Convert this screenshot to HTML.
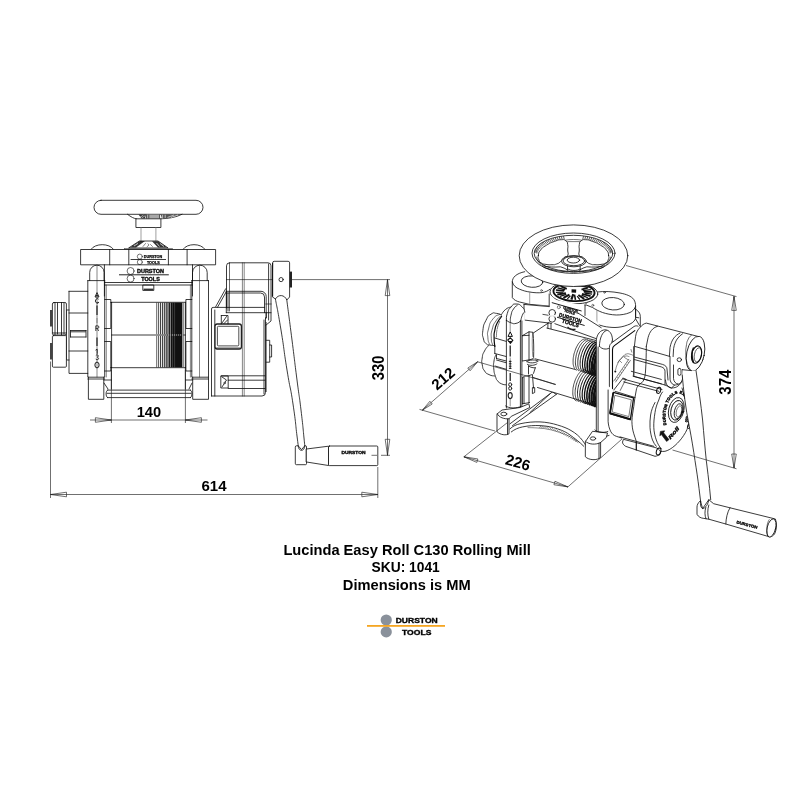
<!DOCTYPE html>
<html><head><meta charset="utf-8"><title>Lucinda Easy Roll C130 Rolling Mill</title>
<style>
html,body{margin:0;padding:0;background:#fff;}
body{width:800px;height:800px;overflow:hidden;font-family:"Liberation Sans",sans-serif;}
svg{display:block;will-change:transform}
.l{fill:none;stroke:#0a0a0a;stroke-width:.8;stroke-linecap:round;stroke-linejoin:round}
.w{fill:#fff;stroke:#0a0a0a;stroke-width:.8;stroke-linecap:round;stroke-linejoin:round}
.g{fill:none;stroke:#777;stroke-width:.7;stroke-linecap:round}
.t{fill:none;stroke:#222;stroke-width:.55;stroke-linecap:round}
.d{fill:none;stroke:#222;stroke-width:.65}
.a{fill:#fff;stroke:#222;stroke-width:.65;stroke-linejoin:miter}
.k{fill:#111;stroke:none}
text{font-family:"Liberation Sans",sans-serif;font-weight:bold;fill:#000}
</style></head><body>
<svg width="800" height="800" viewBox="0 0 800 800">
<rect width="800" height="800" fill="#fff"/>
<rect class="w" x="94" y="200.3" width="109" height="14" rx="7" ry="7"/>
<path class="l" d="M127.5 214.3C131 217 134 218.6 136.3 218.8M182 214.3C176 217.5 168 218.6 160.9 218.8"/>
<path d="M138.5 214.6H146L145 218.4H141.5Z" fill="#333"/>
<path d="M140 217.2L143.4 215.2M141.6 218L145 215.8" stroke="#fff" stroke-width=".6" fill="none"/>
<rect x="146.3" y="214.7" width="13.6" height="3.9" fill="#a8a8a8"/>
<path d="M146.5 214.6V218.6M148.8 214.6V218.6M159.6 214.6V218.6" stroke="#222" stroke-width=".7"/>
<path d="M160.6 214.6H180.5C175 217.4 168.5 218.4 162 218.6Z" fill="#555"/>
<path d="M162.6 214.8V218.4M165.2 214.8V218.2M167.5 217.4L174 215M171 217.4L178 215" stroke="#fff" stroke-width=".6" fill="none"/>
<rect class="w" x="136.3" y="218.8" width="24.6" height="8.7"/>
<path class="g" d="M141 227.5V240.6M155.9 227.5V240.6"/>
<path class="w" d="M139.8 241H158L168.1 248H129Z"/>
<path class="k" d="M139.8 241L145 241L136 247.6H130ZM152 241.2H158L167 247.6H158Z" opacity=".85"/>
<path d="M134 246L138 243.4M160 243.5L164 246.5M156.5 243L159.5 246.5" stroke="#fff" stroke-width=".7" fill="none"/>
<path class="t" d="M143 246.5L145.5 243.5M147 246.8L149 245L148 243.8M150.5 244.5L152.5 246.5"/>
<rect x="124.4" y="248.5" width="48.2" height="1.3" fill="#888" stroke="#333" stroke-width=".4"/>
<path class="l" d="M91 249.4C95 243 109.5 243 113.5 249.4M183 249.4C187 243 201 243 205 249.4"/>
<rect class="w" x="81" y="249.5" width="134.6" height="15.3"/>
<path class="l" d="M109.7 249.5V264.8M128.8 249.5V264.8M168.4 249.5V264.8M187.1 249.5V264.8"/>
<circle class="l" cx="139.8" cy="256.6" r="2.5" style="stroke-width:.55"/><circle class="l" cx="139.8" cy="262.1" r="2.5" style="stroke-width:.55"/>
<path class="l" d="M131 259.5H165.6"/>
<text x="143.8" y="257.9" font-size="3.8" textLength="18.4" lengthAdjust="spacingAndGlyphs" fill="#111" stroke="#111" stroke-width=".25">DURSTON</text>
<text x="146.9" y="263.8" font-size="3.8" textLength="12.8" lengthAdjust="spacingAndGlyphs" fill="#111" stroke="#111" stroke-width=".25">TOOLS</text>
<path class="l" d="M104.4 264.8V296M192.5 264.8V296M104.4 282.5H192.5M104.4 285H192.5"/>
<circle class="l" cx="130.6" cy="271" r="3.5" style="stroke-width:.6"/><circle class="l" cx="130.6" cy="278.6" r="3.5" style="stroke-width:.6"/>
<path d="M119 274.8H168.8" stroke="#222" stroke-width="1" fill="none"/>
<text x="137" y="272.8" font-size="5.4" textLength="27" lengthAdjust="spacingAndGlyphs" fill="#111" stroke="#111" stroke-width=".35">DURSTON</text>
<text x="141.2" y="280.8" font-size="5.4" textLength="18.6" lengthAdjust="spacingAndGlyphs" fill="#111" stroke="#111" stroke-width=".35">TOOLS</text>
<rect class="l" x="143.2" y="285" width="10.6" height="5.4"/><rect x="143.6" y="288.6" width="9.8" height="1.8" fill="#333"/>
<path class="l" d="M89.7 280.6V272.4A7.199999999999996 7.199999999999996 0 0 1 104.1 272.4V280.6"/>
<path class="l" d="M87.8 280.6H104.7M87.8 280.6V377.2H104.7V280.6"/>
<path class="t" d="M97 266V377"/>
<path class="l" d="M87.8 379H104.7M88.4 377.2V399.3H103.8V377.2"/>
<path class="l" d="M192.5 280.6V272.54999999999995A7.349999999999994 7.349999999999994 0 0 1 207.2 272.54999999999995V280.6"/>
<path class="l" d="M191.8 280.6H208.5M191.8 280.6V377.2H208.5V280.6"/>
<path class="t" d="M199.5 266V377"/>
<path class="l" d="M191.8 379H208.5M192.7 377.2V399.3H208.5V377.2"/>
<path class="t" d="M106.3 285V377M190.4 285V377"/>
<path class="l" d="M69 291.3H87.8M69 291.3V373.4H87.8M69 313H87.8M69 351H87.8M70.5 330.5H86M70.5 337H86M70.5 330.5V337M86 330.5V337M71 331.8H85.5"/>
<path class="l" d="M66.5 310V360H69M66.5 310H69"/>
<rect class="w" x="52.4" y="302.5" width="14" height="32.5" rx="1.5"/>
<path class="l" d="M55 302.5V335M57.5 303V334M61.5 302.5V335M64 303V334M52.4 333H66.4"/>
<rect class="w" x="52.4" y="335.6" width="14" height="31.6" rx="1"/>
<rect x="50" y="310" width="2.4" height="16.5" fill="#444"/><rect x="50" y="343" width="2.4" height="16.5" fill="#444"/>
<path class="l" d="M111.6 302.3H185.4M111.6 335H185.4M111.6 367.7H185.4M111.6 302.3V367.7M185.4 302.3V367.7"/>
<path class="l" d="M104.7 299.5H110.8V328.5H104.7M104.7 341.5H110.8V371H104.7M110.8 302.5H111.6M110.8 367.5H111.6"/>
<path class="l" d="M191.8 299.5H185.9V328.5H191.8M191.8 341.5H185.9V371H191.8"/>
<path d="M156.7 302.6V367.4" stroke="#222" stroke-width="0.70" fill="none"/>
<path d="M158.6 302.6V367.4" stroke="#222" stroke-width="0.78" fill="none"/>
<path d="M160.5 302.6V367.4" stroke="#222" stroke-width="0.86" fill="none"/>
<path d="M162.4 302.6V367.4" stroke="#222" stroke-width="0.94" fill="none"/>
<path d="M164.3 302.6V367.4" stroke="#222" stroke-width="1.02" fill="none"/>
<path d="M166.2 302.6V367.4" stroke="#222" stroke-width="1.10" fill="none"/>
<path d="M168.0 302.6V367.4" stroke="#222" stroke-width="1.18" fill="none"/>
<path d="M169.6 302.6V367.4" stroke="#222" stroke-width="1.26" fill="none"/>
<rect x="170.6" y="302.6" width="11.8" height="64.8" fill="#111"/>
<path d="M172.5 302.6V367.4M174.6 302.6V367.4" stroke="#888" stroke-width=".35"/>
<path d="M183.6 302.6V367.4" stroke="#333" stroke-width=".6"/>
<path d="M156 335H184" stroke="#fff" stroke-width=".7" stroke-dasharray="1.2 0.8"/>
<path d="M97 292.6l-2 4.4h4zM95.9 295.6h2.2" fill="none" stroke="#111" stroke-width=".9"/>
<path d="M98.6 299.2a1.9 2.3 0 1 0 .2 3.2h-1.6" fill="none" stroke="#111" stroke-width=".9"/>
<path d="M97 305.5V315" stroke="#111" stroke-width="1.1"/>
<path d="M97 318V323" stroke="#555" stroke-width=".6"/>
<path d="M95.8 331v-5.2h1.8a1.3 1.3 0 0 1 0 2.6h-1.8M97.4 328.4l1.2 2.6" fill="none" stroke="#111" stroke-width=".8"/>
<path d="M97 337.5V346" stroke="#111" stroke-width="1.1"/>
<path d="M95.6 350.2l1.6-1v4.6" fill="none" stroke="#111" stroke-width=".9"/>
<path d="M95.8 355.6c.4-1 2.6-1 2.6.4c0 1-1.2 1-1.2 1.2c0 0 1.4.2 1.4 1.4c0 1.4-2.6 1.4-3 .2" fill="none" stroke="#111" stroke-width=".8"/>
<ellipse cx="97" cy="365" rx="2.1" ry="2.9" fill="none" stroke="#111" stroke-width=".95"/>
<path class="l" d="M111.4 367.7V389M185.4 367.7V389M107.5 390.1H190.5M107.5 397.6H190.5M107.5 390.1C105.5 391 105.5 396.6 107.5 397.6M190.5 390.1C192.5 391 192.5 396.6 190.5 397.6M107 393.3H191"/>
<path class="l" d="M103.8 380H111.4M192.7 380H185.4M104 383L108 389M192 383L189 389"/>
<path class="l" d="M229.5 262.8H268A3 3 0 0 1 271 265.8V321L265.5 325.5M268.6 264V320M229.5 262.8A3 3 0 0 0 226.5 265.8V308"/>
<path class="l" d="M242.4 262.8V396M244.2 262.8V396" style="stroke-width:.5"/>
<path class="l" d="M226.3 291.3H261A5.2 5.2 0 0 1 266.2 296.5V318M226.3 293H260.5A4 4 0 0 1 264.5 297V312.7"/>
<path class="l" d="M225.7 288.7L215.7 306.7M226.4 291.5L217.5 307.3"/>
<path class="l" d="M211.5 396V309A1.6 1.6 0 0 1 213.1 307.4H264.5M214.8 396V310M226.3 312.7H271M226.3 291V312.7M228 293V311"/>
<path class="l" d="M211.5 396H262A3.5 3.5 0 0 0 265.5 392.5V318M264 394V320"/>
<path class="l" d="M266.2 312.6V318H265.5"/>
<rect x="215" y="324" width="26.4" height="25" rx="2.2" fill="#fff" stroke="#222" stroke-width="1.3"/>
<rect x="217.4" y="326.3" width="21.4" height="19.6" rx="1" fill="#fff" stroke="#222" stroke-width=".8"/>
<path class="t" d="M216 347.8H240"/>
<path class="l" d="M221.3 315.5H228V323.8M221.3 315.5V323.8M222 323L226.5 316.5M224 323.5L227.5 320"/>
<path class="l" d="M221.2 376H228.2V388H221.2ZM222 387L226.5 380L222 377M221.2 375.8H265M228.2 380.2H265M228.2 388.5H265"/>
<circle class="t" cx="224.6" cy="383" r=".9"/>
<path class="l" d="M266.2 340.3H269.7V362.2H266.2M269.7 345H271.6V357H269.7"/>
<path d="M266 322V392" stroke="#222" stroke-width="1"/>
<path class="w" d="M272.6 262.8A1.5 1.5 0 0 1 274.1 261.3H288.1A1.5 1.5 0 0 1 289.6 262.8V297L286.8 300C284.6 294.6 278.4 294 275.4 299L272.6 297Z"/>
<path d="M272.6 263V296.6" stroke="#111" stroke-width="1.1"/>
<path class="l" d="M226.4 279.6H272.6M229.5 263.4V311M265.7 304H271.2" style="stroke-width:.6"/>
<circle class="l" cx="281.1" cy="279.6" r="2.1"/>
<rect x="289.6" y="271.6" width="2.4" height="15.9" fill="#222"/>
<path class="l" d="M275.4 299.0C277.3 309.3 277.1 306.3 281.0 330.0C284.9 353.7 283.0 345.3 287.0 370.0C291.0 394.7 289.7 382.0 293.0 404.0C296.3 426.0 295.2 421.9 297.0 436.0C298.8 450.1 297.9 442.9 298.4 446.3" />
<path class="l" d="M286.8 300.0C288.5 313.3 288.6 313.3 292.0 340.0C295.4 366.7 294.0 356.7 297.0 380.0C300.0 403.3 298.7 390.7 301.0 410.0C303.3 429.3 302.8 426.1 304.0 438.0C305.2 449.9 304.5 443.1 304.7 445.6" />
<path class="w" d="M295.3 446.8A1 1 0 0 1 296.3 445.8H298.2L301.5 449.6L304.8 445.8H305.5A1 1 0 0 1 306.5 446.8V463.7A1 1 0 0 1 305.5 464.7H296.3A1 1 0 0 1 295.3 463.7Z"/>
<path class="l" d="M298.2 445.8C298.2 452 304.8 452 304.8 445.8"/>
<path class="w" d="M306.5 449L328.5 446.2V465.5L306.5 462Z"/>
<rect class="w" x="328.5" y="446" width="49.3" height="19.6" rx="1"/>
<text x="341.5" y="454.4" font-size="3.6" textLength="24" lengthAdjust="spacingAndGlyphs" fill="#111" stroke="#111" stroke-width=".3">DURSTON</text>
<path class="w" d="M524.7 271.7C516 273.5 512.3 277.5 512.3 282V297.6C514 300 516.5 301.2 519.6 302L529.7 304.4L548.9 306V290Z" style="stroke:none"/>
<path class="l" d="M524.7 271.7C516 273.5 512.3 277.5 512.3 282V297.6C514 300 516.5 301.2 519.6 302L529.7 304.4L548.9 306"/>
<path class="l" d="M512.3 282C513.2 285.6 516 287.8 519.6 289.2C523 290.7 526.5 291.6 529.7 292C534 292.8 538.5 293 542 292.6C545.5 292 548.2 290.8 550 289.2"/>
<path class="g" d="M529.7 292V304.4"/>
<ellipse class="l" cx="532" cy="281.6" rx="10.8" ry="5.7" transform="rotate(4 532 281.6)" />
<path class="w" d="M597.5 292C604 291 612 291.5 620 293C626 294.2 631.3 296 633.8 299.5C635.2 301.5 635.6 304 635.6 306.3V318.8C634 322 631 324 627.5 325C623 326.8 619 327.4 615 327.5C611 327.5 607 327 603.8 326.3L585 321V305Z"/>
<path class="l" d="M635.6 306.3C634.5 309.5 632.5 311.3 630 312.5C625.5 314.4 621 315 616.3 315C611 314.8 606.5 313.8 602.5 312.5C598.5 311 595.5 309.4 592.5 307.5L586.3 305"/>
<path class="g" d="M596.9 310.6V323.2"/>
<ellipse class="l" cx="613.1" cy="303.75" rx="11.3" ry="6.2" transform="rotate(4 613.1 303.75)" />
<circle class="t" cx="541.5" cy="290.5" r=".9"/><circle class="t" cx="592.8" cy="305.3" r="1"/><circle class="t" cx="604.5" cy="292.5" r=".8"/>
<ellipse class="w" cx="573.9" cy="292.9" rx="23.9" ry="10.8" transform="rotate(3 573.9 292.9)" />
<g transform="rotate(3 574 292)">
<ellipse cx="574" cy="292" rx="20.6" ry="9.1" fill="#fff" stroke="#111" stroke-width="1.9"/>
<clipPath id="dc"><ellipse cx="574" cy="292" rx="19.8" ry="8.4"/></clipPath>
<g clip-path="url(#dc)">
<path d="M550 280H600V288.6C590 285.6 560 285.6 550 288.6Z" fill="#222"/>
<path d="M584.8 292.6L592.2 293.1" stroke="#111" stroke-width="1.2" fill="none"/>
<path d="M582.1 293.5L590.8 295.2" stroke="#111" stroke-width="1.8" fill="none"/>
<path d="M581.6 294.7L588.1 297.0" stroke="#111" stroke-width="1.3" fill="none"/>
<path d="M578.5 294.8L584.6 298.4" stroke="#111" stroke-width="2.0" fill="none"/>
<path d="M577.4 295.9L580.3 299.3" stroke="#111" stroke-width="1.2" fill="none"/>
<path d="M574.6 294.5L575.9 299.8" stroke="#111" stroke-width="1.6" fill="none"/>
<path d="M573.4 294.1L571.8 299.8" stroke="#111" stroke-width="2.2" fill="none"/>
<path d="M570.6 295.9L567.7 299.3" stroke="#111" stroke-width="1.2" fill="none"/>
<path d="M569.6 294.8L563.7 298.5" stroke="#111" stroke-width="1.9" fill="none"/>
<path d="M566.5 294.8L560.1 297.1" stroke="#111" stroke-width="1.3" fill="none"/>
<path d="M566.0 293.7L557.4 295.4" stroke="#111" stroke-width="1.9" fill="none"/>
<path d="M563.3 292.8L555.9 293.4" stroke="#111" stroke-width="1.2" fill="none"/>
<path d="M564.2 291.4L555.8 290.9" stroke="#111" stroke-width="1.6" fill="none"/>
<path d="M565.0 290.2L557.3 288.7" stroke="#111" stroke-width="1.4" fill="none"/>
<path d="M566.6 289.2L560.3 286.8" stroke="#111" stroke-width="1.8" fill="none"/>
<path d="M581.4 289.2L587.7 286.8" stroke="#111" stroke-width="1.8" fill="none"/>
<path d="M583.0 290.2L590.7 288.7" stroke="#111" stroke-width="1.4" fill="none"/>
<path d="M583.8 291.4L592.2 290.9" stroke="#111" stroke-width="1.6" fill="none"/>
<path d="M571.5 289.5h4.6v3.2h-4.6z" fill="#111"/>
</g></g>
<ellipse class="w" cx="573.5" cy="255.7" rx="54.3" ry="30.8" transform="rotate(0 573.5 255.7)" />
<ellipse class="l" cx="573.5" cy="253.2" rx="41.5" ry="20.2" transform="rotate(0 573.5 253.2)" />
<ellipse class="l" cx="573.5" cy="253.4" rx="39.3" ry="18.1" transform="rotate(0 573.5 253.4)" />
<path d="M534.7 251.5L537.2 253.3" stroke="#111" stroke-width=".7"/>
<path d="M535.0 250.5L537.5 252.3" stroke="#111" stroke-width=".7"/>
<path d="M535.4 249.5L537.9 251.4" stroke="#111" stroke-width=".7"/>
<path d="M536.0 248.5L538.4 250.5" stroke="#111" stroke-width=".7"/>
<path d="M536.7 247.6L539.0 249.5" stroke="#111" stroke-width=".7"/>
<path d="M537.5 246.6L539.8 248.7" stroke="#111" stroke-width=".7"/>
<path d="M538.4 245.7L540.6 247.8" stroke="#111" stroke-width=".7"/>
<path d="M539.4 244.8L541.6 246.9" stroke="#111" stroke-width=".7"/>
<path d="M540.6 243.9L542.7 246.1" stroke="#111" stroke-width=".7"/>
<path d="M541.8 243.0L543.8 245.3" stroke="#111" stroke-width=".7"/>
<path d="M543.2 242.2L545.1 244.6" stroke="#111" stroke-width=".7"/>
<path d="M544.6 241.4L546.5 243.8" stroke="#111" stroke-width=".7"/>
<path d="M546.2 240.7L547.9 243.2" stroke="#111" stroke-width=".7"/>
<path d="M547.8 240.0L549.5 242.5" stroke="#111" stroke-width=".7"/>
<path d="M549.6 239.4L551.1 241.9" stroke="#111" stroke-width=".7"/>
<path d="M551.4 238.7L552.8 241.3" stroke="#111" stroke-width=".7"/>
<path d="M553.2 238.2L554.5 240.8" stroke="#111" stroke-width=".7"/>
<path d="M555.2 237.7L556.4 240.3" stroke="#111" stroke-width=".7"/>
<path d="M557.2 237.2L558.2 239.9" stroke="#111" stroke-width=".7"/>
<path d="M559.3 236.8L560.2 239.5" stroke="#111" stroke-width=".7"/>
<path d="M561.4 236.5L562.1 239.2" stroke="#111" stroke-width=".7"/>
<path d="M563.5 236.2L564.2 239.0" stroke="#111" stroke-width=".7"/>
<path d="M583.5 236.2L582.8 239.0" stroke="#111" stroke-width=".7"/>
<path d="M585.6 236.5L584.9 239.2" stroke="#111" stroke-width=".7"/>
<path d="M587.7 236.8L586.8 239.5" stroke="#111" stroke-width=".7"/>
<path d="M589.8 237.2L588.8 239.9" stroke="#111" stroke-width=".7"/>
<path d="M591.8 237.7L590.6 240.3" stroke="#111" stroke-width=".7"/>
<path d="M593.8 238.2L592.5 240.8" stroke="#111" stroke-width=".7"/>
<path d="M595.6 238.7L594.2 241.3" stroke="#111" stroke-width=".7"/>
<path d="M597.4 239.4L595.9 241.9" stroke="#111" stroke-width=".7"/>
<path d="M599.2 240.0L597.5 242.5" stroke="#111" stroke-width=".7"/>
<path d="M600.8 240.7L599.1 243.2" stroke="#111" stroke-width=".7"/>
<path d="M602.4 241.4L600.5 243.8" stroke="#111" stroke-width=".7"/>
<path d="M603.8 242.2L601.9 244.6" stroke="#111" stroke-width=".7"/>
<path d="M605.2 243.0L603.2 245.3" stroke="#111" stroke-width=".7"/>
<path d="M606.4 243.9L604.3 246.1" stroke="#111" stroke-width=".7"/>
<path d="M607.6 244.8L605.4 246.9" stroke="#111" stroke-width=".7"/>
<path d="M608.6 245.7L606.4 247.8" stroke="#111" stroke-width=".7"/>
<path d="M609.5 246.6L607.2 248.7" stroke="#111" stroke-width=".7"/>
<path d="M610.3 247.6L608.0 249.5" stroke="#111" stroke-width=".7"/>
<path d="M611.0 248.5L608.6 250.5" stroke="#111" stroke-width=".7"/>
<path d="M611.6 249.5L609.1 251.4" stroke="#111" stroke-width=".7"/>
<path d="M612.0 250.5L609.5 252.3" stroke="#111" stroke-width=".7"/>
<path d="M612.3 251.5L609.8 253.3" stroke="#111" stroke-width=".7"/>
<path class="l" d="M538.4 255.5C539.0 252.2 537.9 253.4 540.6 250.0C543.3 246.6 541.9 248.1 546.5 245.2C551.1 242.3 549.5 243.2 554.5 241.4C559.5 239.6 557.7 239.9 561.5 239.7C565.3 239.5 563.7 239.2 565.8 240.8C567.9 242.4 567.1 241.5 567.7 244.6C568.3 247.7 567.7 246.4 567.7 250.0C567.7 253.6 568.9 252.9 567.7 255.4C566.5 257.9 566.4 255.5 564.0 257.6C561.6 259.7 562.9 259.6 560.4 261.7C557.9 263.8 559.3 263.0 556.5 264.0C553.7 265.0 555.5 264.6 552.0 264.7C548.5 264.8 549.6 265.0 546.0 264.4C542.4 263.8 543.6 264.4 541.2 262.9C538.8 261.4 539.7 262.3 538.8 259.8C537.9 257.3 537.8 258.8 538.4 255.5Z" />
<path class="l" d="M608.6 255.5C608.0 252.2 609.1 253.4 606.4 250.0C603.7 246.6 605.1 248.1 600.5 245.2C595.9 242.3 597.5 243.2 592.5 241.4C587.5 239.6 589.3 239.9 585.5 239.7C581.7 239.5 583.3 239.2 581.2 240.8C579.1 242.4 579.9 241.5 579.3 244.6C578.7 247.7 579.3 246.4 579.3 250.0C579.3 253.6 578.1 252.9 579.3 255.4C580.5 257.9 580.6 255.5 583.0 257.6C585.4 259.7 584.1 259.6 586.6 261.7C589.1 263.8 587.7 263.0 590.5 264.0C593.3 265.0 591.5 264.6 595.0 264.7C598.5 264.8 597.4 265.0 601.0 264.4C604.6 263.8 603.4 264.4 605.8 262.9C608.2 261.4 607.3 262.3 608.2 259.8C609.1 257.3 609.2 258.8 608.6 255.5Z" />
<path class="l" d="M565 240.2C570 239.2 577 239.2 582.2 240.2M567.7 241.6H579.5" style="stroke-width:.55"/>
<path class="l" d="M536.6 257C536.8 260 538.5 262.8 541 264.6M610.6 257C610.4 260 608.7 262.8 606.2 264.6" style="stroke-width:.5"/>
<path class="l" d="M542.4 265.8C548 267.2 554.5 267.3 560.4 266.8C563 267.6 565.5 268.5 567 269.6M604.8 265.8C599.2 267.2 592.7 267.3 586.8 266.8C584.2 267.6 581.7 268.5 580.2 269.6"/>
<path class="l" d="M544 267.4C552 270.5 562 271.6 568 271.8M603.2 267.4C595.2 270.5 585.2 271.6 579.2 271.8"/>
<ellipse class="w" cx="573.9" cy="261.2" rx="12.4" ry="5.6" transform="rotate(0 573.9 261.2)" />
<ellipse class="l" cx="573.9" cy="260.9" rx="10.8" ry="4.8" transform="rotate(0 573.9 260.9)" />
<ellipse class="l" cx="573.4" cy="260.1" rx="6.2" ry="2.9" transform="rotate(0 573.4 260.1)" />
<path class="l" d="M567.5 266V270.4C569.5 272.8 578 272.8 580.2 270.4V266M568 269C570 271 578 271 580 269"/>
<path class="w" d="M524 304.4L548.9 306L549.2 294L556 300L585 305.4L601.2 327.7L596 338.6L554.9 323.7L524.7 320Z" style="stroke:none"/>
<path class="l" d="M524 304.4L548.9 306.6M549.2 294V306.6M524 304.4V320L551.4 323.3M554.9 323.7L596 338.6M577.6 312.8L601.2 327.7M585 305.4V315.5"/>
<path class="l" d="M547.9 323V328M551 323.4V328.6"/>
<path d="M551.8 302.6L581.6 311" stroke="#222" stroke-width="1" fill="none"/>
<circle class="t" cx="558.8" cy="307.2" r="1.5"/>
<text transform="translate(563 308.3) rotate(16)" font-size="3.4" textLength="15" lengthAdjust="spacingAndGlyphs" fill="#111" stroke="#111" stroke-width=".3">DURSTON</text>
<text transform="translate(564 311.8) rotate(16)" font-size="3.4" textLength="11" lengthAdjust="spacingAndGlyphs" fill="#111" stroke="#111" stroke-width=".3">TOOLS</text>
<path d="M564 309.2L579 313.6" stroke="#222" stroke-width=".7" fill="none"/>
<circle class="w" cx="552.2" cy="312.8" r="3.3"/><circle class="w" cx="552.2" cy="318.9" r="3.3"/>
<path d="M549.4 315.9H555" stroke="#fff" stroke-width="1.6"/>
<path d="M542.5 314.3L548.5 315.3" stroke="#222" stroke-width=".8"/>
<path d="M557 317.2L584.6 325.5" stroke="#222" stroke-width="1" fill="none"/>
<text transform="translate(558.6 316.6) rotate(16.5)" font-size="5.6" textLength="23.5" lengthAdjust="spacingAndGlyphs" fill="#111" stroke="#111" stroke-width=".35">DURSTON</text>
<text transform="translate(561.5 322.6) rotate(16.5)" font-size="5.6" textLength="17.5" lengthAdjust="spacingAndGlyphs" fill="#111" stroke="#111" stroke-width=".35">TOOLS</text>
<path d="M567.5 326.8C569 329 573 330 575.5 329.2" stroke="#222" stroke-width="1.3" fill="none"/>
<path class="w" d="M496.6 313.4L501.6 314.3C504 311 507 308.5 510.4 307.1V360L494.8 356V346Z" style="stroke:none"/>
<path class="w" d="M496.6 313.4C494.7 313.7 494.5 311.9 491.0 314.2C487.5 316.5 488.7 314.9 486.0 320.3C483.3 325.7 483.7 324.1 482.9 330.3C482.1 336.5 482.4 334.5 483.5 339.0C484.6 343.5 484.2 341.7 486.3 343.7C488.4 345.7 488.6 344.6 489.8 345.0L494.8 345.6L494.8 330L501.6 315Z" style="stroke:none"/>
<path class="l" d="M501.6 315.0C499.9 314.5 500.1 313.7 496.6 313.4C493.1 313.1 494.5 311.9 491.0 314.2C487.5 316.5 488.7 314.9 486.0 320.3C483.3 325.7 483.7 324.1 482.9 330.3C482.1 336.5 482.4 334.5 483.5 339.0C484.6 343.5 484.2 341.7 486.3 343.7C488.4 345.7 487.0 344.4 489.8 345.0C492.6 345.6 493.1 345.4 494.8 345.6" />
<path class="l" d="M499.8 314.3C497.5 315.9 496.7 314.1 492.9 319.0C489.1 323.9 490.2 322.7 488.5 329.0C486.8 335.3 487.6 332.8 487.9 337.8C488.2 342.8 488.9 341.9 489.4 344.0" style="stroke-width:.6"/>
<path class="l" d="M501.0 315.9C499.3 317.6 498.9 316.5 496.0 320.9C493.1 325.3 493.9 323.2 492.3 329.0C490.7 334.8 491.2 333.2 491.3 338.4C491.4 343.6 492.2 342.5 492.6 344.6" style="stroke-width:.6"/>
<path class="l" d="M501.6 316.5C500.2 318.6 499.6 318.2 497.3 322.8C495.0 327.4 495.9 325.3 494.8 330.3C493.7 335.3 494.1 332.4 494.1 337.8C494.1 343.2 494.6 343.6 494.8 346.5" style="stroke-width:1.2"/>
<path class="l" d="M499.6 321.5C498.8 324.0 498.3 323.8 497.2 329.0C496.1 334.2 496.7 334.3 496.4 337.0" style="stroke-width:.6" stroke-dasharray="1.2 1"/>
<path class="l" d="M501.6 314.3C502.9 312.7 502.5 312.0 505.4 309.6C508.3 307.2 508.7 307.9 510.4 307.1" />
<path class="l" d="M494.8 346V353.5M494.8 338L506.6 341.5M494.8 353.5L506.5 356.6M496.5 354.8V358.5M496.5 358.5L507 361.2"/>
<path class="l" d="M488.5 345.6C487.2 347.4 486.6 346.9 484.5 351.0C482.4 355.1 482.9 353.3 482.2 358.0C481.5 362.7 481.5 360.7 482.3 365.0C483.1 369.3 482.4 367.8 484.6 371.0C486.8 374.2 485.7 372.9 489.0 374.6C492.3 376.3 492.7 375.5 494.6 376.0" />
<path class="l" d="M495.9 354.8C495.3 356.9 494.7 356.3 494.0 361.0C493.3 365.7 493.3 363.8 493.8 369.0C494.3 374.2 494.2 372.5 495.5 376.5C496.8 380.5 495.8 378.6 497.8 381.0C499.8 383.4 498.8 382.5 501.5 383.8C504.2 385.1 504.4 384.5 505.9 384.8" />
<path class="l" d="M496.5 360L507 363M495 366L506.5 369.4"/>
<path class="l" d="M510 423.8L552.5 391.9M512.5 425.6L556.3 394.4M530 412.5L550 393.8M552.5 391.9L556.3 394.4"/>
<path class="l" d="M510 428.8C513 426 516.5 424.5 520 423.8C527 422.2 533.5 421.7 540 421.9C546.5 422.2 552.5 423.4 557.5 425C563 426.6 567.5 428.4 571 430.5C576 433.3 580 437 582.5 440.5C584 442.5 585 444 585.6 445"/>
<path class="l" d="M511.3 431.9C514.5 429.3 518.5 427.7 522.5 426.9C528.5 425.7 534.5 425.3 540 425.6C546.5 425.9 552.5 427 557.5 428.8C563 430.6 567 432.6 570 435C575 438.6 579.5 442 583.8 446.3"/>
<path class="l" d="M528.0 427.6C532.0 427.8 533.3 427.6 540.0 428.2C546.7 428.8 543.0 428.4 548.0 429.3C553.0 430.2 550.3 429.7 555.0 431.0C559.7 432.3 557.7 431.7 562.0 433.3C566.3 434.9 564.3 434.0 568.0 435.8C571.7 437.6 569.7 436.6 573.0 438.8C576.3 441.0 576.3 441.3 578.0 442.5" style="stroke-width:.5"/>
<path d="M541.0 425.9l-1.6 1.7" stroke="#222" stroke-width=".55"/>
<path d="M542.7 426.0l-1.6 1.7" stroke="#222" stroke-width=".55"/>
<path d="M544.4 426.2l-1.6 1.7" stroke="#222" stroke-width=".55"/>
<path d="M546.1 426.4l-1.6 1.7" stroke="#222" stroke-width=".55"/>
<path d="M547.9 426.7l-1.6 1.7" stroke="#222" stroke-width=".55"/>
<path d="M549.6 427.1l-1.6 1.7" stroke="#222" stroke-width=".55"/>
<path d="M551.3 427.6l-1.6 1.7" stroke="#222" stroke-width=".55"/>
<path d="M553.0 428.1l-1.6 1.7" stroke="#222" stroke-width=".55"/>
<path d="M554.7 428.7l-1.6 1.7" stroke="#222" stroke-width=".55"/>
<path d="M556.4 429.3l-1.6 1.7" stroke="#222" stroke-width=".55"/>
<path d="M558.1 429.9l-1.6 1.7" stroke="#222" stroke-width=".55"/>
<path d="M559.9 430.6l-1.6 1.7" stroke="#222" stroke-width=".55"/>
<path d="M561.6 431.4l-1.6 1.7" stroke="#222" stroke-width=".55"/>
<path d="M563.3 432.2l-1.6 1.7" stroke="#222" stroke-width=".55"/>
<path d="M565.0 433.0l-1.6 1.7" stroke="#222" stroke-width=".55"/>
<path d="M566.7 433.9l-1.6 1.7" stroke="#222" stroke-width=".55"/>
<path d="M568.4 434.8l-1.6 1.7" stroke="#222" stroke-width=".55"/>
<path d="M570.1 435.8l-1.6 1.7" stroke="#222" stroke-width=".55"/>
<path d="M571.9 436.8l-1.6 1.7" stroke="#222" stroke-width=".55"/>
<path d="M573.6 437.9l-1.6 1.7" stroke="#222" stroke-width=".55"/>
<path d="M575.3 439.0l-1.6 1.7" stroke="#222" stroke-width=".55"/>
<path d="M577.0 440.1l-1.6 1.7" stroke="#222" stroke-width=".55"/>
<path class="w" d="M535 327L596.3 340.6V405L537.5 387.5L533 384Z" style="stroke:none"/>
<path class="l" d="M546.9 328.1L596.3 340.6M535 358.8L575 369.4M537.5 387.5L595 405M531.3 376.9L555 384.4"/>
<path d="M576.8 370.3L576.3 370.1L575.8 369.8L575.3 369.4L574.9 368.9L574.5 368.3L574.2 367.7L573.9 366.9L573.6 366.1L573.4 365.3L573.2 364.3L573.1 363.3L573.1 362.2L573.1 361.1L573.1 360.0L573.2 358.8L573.3 357.6L573.5 356.4L573.8 355.2L574.0 353.9L574.4 352.7L574.8 351.5L575.2 350.3L575.6 349.1L576.1 348.0L576.6 346.9L577.2 345.9L577.7 344.9L578.3 343.9L578.9 343.1L579.6 342.3L580.2 341.6L580.8 340.9L581.5 340.4L582.1 339.9L582.8 339.6L583.4 339.3L584.0 339.1L584.6 339.0L585.2 339.0L585.8 339.1" fill="none" stroke="#111" stroke-width="0.75"/>
<path d="M579.2 370.9L578.7 370.7L578.2 370.4L577.7 370.0L577.3 369.6L576.9 369.0L576.5 368.3L576.2 367.6L576.0 366.8L575.8 365.9L575.6 365.0L575.5 364.0L575.4 362.9L575.4 361.8L575.5 360.7L575.5 359.5L575.7 358.3L575.9 357.1L576.1 355.8L576.4 354.6L576.7 353.4L577.1 352.2L577.5 351.0L578.0 349.8L578.4 348.7L579.0 347.6L579.5 346.5L580.1 345.5L580.7 344.6L581.3 343.7L581.9 343.0L582.6 342.2L583.2 341.6L583.8 341.1L584.5 340.6L585.1 340.2L585.8 339.9L586.4 339.8L587.0 339.7L587.6 339.7L588.1 339.8" fill="none" stroke="#111" stroke-width="0.8"/>
<path d="M581.5 371.6L581.0 371.4L580.5 371.1L580.0 370.7L579.6 370.2L579.2 369.7L578.9 369.0L578.6 368.3L578.3 367.5L578.1 366.6L577.9 365.6L577.8 364.6L577.8 363.6L577.8 362.5L577.8 361.3L577.9 360.2L578.0 359.0L578.2 357.7L578.5 356.5L578.7 355.3L579.1 354.1L579.5 352.8L579.9 351.6L580.3 350.5L580.8 349.3L581.3 348.2L581.9 347.2L582.4 346.2L583.0 345.3L583.6 344.4L584.3 343.6L584.9 342.9L585.5 342.3L586.2 341.7L586.8 341.3L587.5 340.9L588.1 340.6L588.7 340.4L589.3 340.3L589.9 340.4L590.5 340.5" fill="none" stroke="#111" stroke-width="0.9"/>
<path d="M583.9 372.3L583.4 372.1L582.9 371.8L582.4 371.4L582.0 370.9L581.6 370.3L581.2 369.7L580.9 369.0L580.7 368.1L580.5 367.3L580.3 366.3L580.2 365.3L580.1 364.3L580.1 363.2L580.2 362.0L580.2 360.8L580.4 359.6L580.6 358.4L580.8 357.2L581.1 356.0L581.4 354.7L581.8 353.5L582.2 352.3L582.7 351.1L583.1 350.0L583.7 348.9L584.2 347.9L584.8 346.9L585.4 346.0L586.0 345.1L586.6 344.3L587.3 343.6L587.9 342.9L588.5 342.4L589.2 341.9L589.8 341.6L590.5 341.3L591.1 341.1L591.7 341.0L592.3 341.0L592.8 341.1" fill="none" stroke="#111" stroke-width="1.0"/>
<path d="M586.2 373.0L585.7 372.7L585.2 372.5L584.7 372.1L584.3 371.6L583.9 371.0L583.6 370.4L583.3 369.6L583.0 368.8L582.8 367.9L582.6 367.0L582.5 366.0L582.5 364.9L582.5 363.8L582.5 362.7L582.6 361.5L582.7 360.3L582.9 359.1L583.2 357.9L583.4 356.6L583.8 355.4L584.2 354.2L584.6 353.0L585.0 351.8L585.5 350.7L586.0 349.6L586.6 348.5L587.1 347.6L587.7 346.6L588.3 345.8L589.0 345.0L589.6 344.2L590.2 343.6L590.9 343.1L591.5 342.6L592.2 342.2L592.8 342.0L593.4 341.8L594.0 341.7L594.6 341.7L595.2 341.8" fill="none" stroke="#111" stroke-width="1.15"/>
<path d="M588.6 373.6L588.1 373.4L587.6 373.1L587.1 372.7L586.7 372.2L586.3 371.7L585.9 371.0L585.6 370.3L585.4 369.5L585.2 368.6L585.0 367.7L584.9 366.7L584.8 365.6L584.8 364.5L584.9 363.4L584.9 362.2L585.1 361.0L585.3 359.8L585.5 358.5L585.8 357.3L586.1 356.1L586.5 354.8L586.9 353.7L587.4 352.5L587.8 351.4L588.4 350.3L588.9 349.2L589.5 348.2L590.1 347.3L590.7 346.4L591.3 345.6L592.0 344.9L592.6 344.3L593.2 343.7L593.9 343.3L594.5 342.9L595.2 342.6L595.8 342.4L596.4 342.4L597.0 342.4L597.5 342.5" fill="none" stroke="#111" stroke-width="1.35"/>
<path d="M590.9 374.3L590.4 374.1L589.9 373.8L589.4 373.4L589.0 372.9L588.6 372.3L588.3 371.7L588.0 371.0L587.7 370.2L587.5 369.3L587.3 368.3L587.2 367.3L587.2 366.3L587.2 365.2L587.2 364.0L587.3 362.8L587.4 361.6L587.6 360.4L587.9 359.2L588.1 358.0L588.5 356.7L588.9 355.5L589.3 354.3L589.7 353.2L590.2 352.0L590.7 350.9L591.3 349.9L591.8 348.9L592.4 348.0L593.0 347.1L593.7 346.3L594.3 345.6L594.9 345.0L595.6 344.4L596.2 343.9L596.9 343.6L597.5 343.3L598.1 343.1L598.7 343.0L599.3 343.0L599.9 343.1" fill="none" stroke="#111" stroke-width="1.6"/>
<path d="M593.3 375.0L592.8 374.8L592.3 374.5L591.8 374.1L591.4 373.6L591.0 373.0L590.6 372.4L590.3 371.6L590.1 370.8L589.9 369.9L589.7 369.0L589.6 368.0L589.5 366.9L589.5 365.8L589.6 364.7L589.6 363.5L589.8 362.3L590.0 361.1L590.2 359.9L590.5 358.6L590.8 357.4L591.2 356.2L591.6 355.0L592.1 353.8L592.5 352.7L593.1 351.6L593.6 350.6L594.2 349.6L594.8 348.6L595.4 347.8L596.0 347.0L596.7 346.3L597.3 345.6L597.9 345.1L598.6 344.6L599.2 344.2L599.9 344.0L600.5 343.8L601.1 343.7L601.7 343.7L602.2 343.8" fill="none" stroke="#111" stroke-width="1.9"/>
<path d="M595.6 375.6L595.1 375.4L594.6 375.1L594.1 374.7L593.7 374.3L593.3 373.7L593.0 373.0L592.7 372.3L592.4 371.5L592.2 370.6L592.0 369.7L591.9 368.7L591.9 367.6L591.9 366.5L591.9 365.4L592.0 364.2L592.1 363.0L592.3 361.8L592.6 360.5L592.8 359.3L593.2 358.1L593.6 356.9L594.0 355.7L594.4 354.5L594.9 353.4L595.4 352.3L596.0 351.2L596.5 350.2L597.1 349.3L597.7 348.4L598.4 347.6L599.0 346.9L599.6 346.3L600.3 345.7L600.9 345.3L601.6 344.9L602.2 344.6L602.8 344.5L603.4 344.4L604.0 344.4L604.6 344.5" fill="none" stroke="#111" stroke-width="2.3"/>
<path d="M598.0 376.3L597.5 376.1L597.0 375.8L596.5 375.4L596.1 374.9L595.7 374.4L595.3 373.7L595.0 373.0L594.8 372.2L594.6 371.3L594.4 370.3L594.3 369.3L594.2 368.3L594.2 367.2L594.3 366.0L594.3 364.9L594.5 363.7L594.7 362.4L594.9 361.2L595.2 360.0L595.5 358.7L595.9 357.5L596.3 356.3L596.8 355.2L597.2 354.0L597.8 352.9L598.3 351.9L598.9 350.9L599.5 350.0L600.1 349.1L600.7 348.3L601.4 347.6L602.0 347.0L602.6 346.4L603.3 346.0L603.9 345.6L604.6 345.3L605.2 345.1L605.8 345.0L606.4 345.0L606.9 345.2" fill="none" stroke="#111" stroke-width="2.6"/>
<path d="M600.3 377.0L599.8 376.8L599.3 376.5L598.8 376.1L598.4 375.6L598.0 375.0L597.7 374.4L597.4 373.6L597.1 372.8L596.9 372.0L596.7 371.0L596.6 370.0L596.6 368.9L596.6 367.8L596.6 366.7L596.7 365.5L596.8 364.3L597.0 363.1L597.3 361.9L597.5 360.6L597.9 359.4L598.3 358.2L598.7 357.0L599.1 355.8L599.6 354.7L600.1 353.6L600.7 352.6L601.2 351.6L601.8 350.6L602.4 349.8L603.1 349.0L603.7 348.3L604.3 347.6L605.0 347.1L605.6 346.6L606.3 346.3L606.9 346.0L607.5 345.8L608.1 345.7L608.7 345.7L609.3 345.8" fill="none" stroke="#111" stroke-width="2.6"/>
<path d="M576.5 401.0L576.0 400.8L575.5 400.5L575.0 400.1L574.6 399.6L574.2 399.0L573.9 398.4L573.6 397.6L573.3 396.8L573.1 396.0L572.9 395.0L572.8 394.0L572.8 392.9L572.8 391.8L572.8 390.7L572.9 389.5L573.0 388.3L573.2 387.1L573.5 385.9L573.7 384.6L574.1 383.4L574.5 382.2L574.9 381.0L575.3 379.8L575.8 378.7L576.3 377.6L576.9 376.6L577.4 375.6L578.0 374.6L578.6 373.8L579.3 373.0L579.9 372.3L580.5 371.6L581.2 371.1L581.8 370.6L582.5 370.3L583.1 370.0L583.7 369.8L584.3 369.7L584.9 369.7L585.5 369.8" fill="none" stroke="#111" stroke-width="0.75"/>
<path d="M578.9 401.6L578.4 401.4L577.9 401.1L577.4 400.7L577.0 400.3L576.6 399.7L576.2 399.0L575.9 398.3L575.7 397.5L575.5 396.6L575.3 395.7L575.2 394.7L575.1 393.6L575.1 392.5L575.2 391.4L575.2 390.2L575.4 389.0L575.6 387.8L575.8 386.5L576.1 385.3L576.4 384.1L576.8 382.9L577.2 381.7L577.7 380.5L578.1 379.4L578.7 378.3L579.2 377.2L579.8 376.2L580.4 375.3L581.0 374.4L581.6 373.7L582.3 372.9L582.9 372.3L583.5 371.8L584.2 371.3L584.8 370.9L585.5 370.6L586.1 370.5L586.7 370.4L587.3 370.4L587.8 370.5" fill="none" stroke="#111" stroke-width="0.8"/>
<path d="M581.2 402.3L580.7 402.1L580.2 401.8L579.7 401.4L579.3 400.9L578.9 400.4L578.6 399.7L578.3 399.0L578.0 398.2L577.8 397.3L577.6 396.3L577.5 395.3L577.5 394.3L577.5 393.2L577.5 392.0L577.6 390.9L577.7 389.7L577.9 388.4L578.2 387.2L578.4 386.0L578.8 384.8L579.2 383.5L579.6 382.3L580.0 381.2L580.5 380.0L581.0 378.9L581.6 377.9L582.1 376.9L582.7 376.0L583.3 375.1L584.0 374.3L584.6 373.6L585.2 373.0L585.9 372.4L586.5 372.0L587.2 371.6L587.8 371.3L588.4 371.1L589.0 371.0L589.6 371.1L590.2 371.2" fill="none" stroke="#111" stroke-width="0.9"/>
<path d="M583.6 403.0L583.1 402.8L582.6 402.5L582.1 402.1L581.7 401.6L581.3 401.0L580.9 400.4L580.6 399.7L580.4 398.8L580.2 398.0L580.0 397.0L579.9 396.0L579.8 395.0L579.8 393.9L579.9 392.7L579.9 391.5L580.1 390.3L580.3 389.1L580.5 387.9L580.8 386.7L581.1 385.4L581.5 384.2L581.9 383.0L582.4 381.8L582.8 380.7L583.4 379.6L583.9 378.6L584.5 377.6L585.1 376.7L585.7 375.8L586.3 375.0L587.0 374.3L587.6 373.6L588.2 373.1L588.9 372.6L589.5 372.3L590.2 372.0L590.8 371.8L591.4 371.7L592.0 371.7L592.5 371.8" fill="none" stroke="#111" stroke-width="1.0"/>
<path d="M585.9 403.7L585.4 403.4L584.9 403.2L584.4 402.8L584.0 402.3L583.6 401.7L583.3 401.1L583.0 400.3L582.7 399.5L582.5 398.6L582.3 397.7L582.2 396.7L582.2 395.6L582.2 394.5L582.2 393.4L582.3 392.2L582.4 391.0L582.6 389.8L582.9 388.6L583.1 387.3L583.5 386.1L583.9 384.9L584.3 383.7L584.7 382.5L585.2 381.4L585.7 380.3L586.3 379.2L586.8 378.3L587.4 377.3L588.0 376.5L588.7 375.7L589.3 374.9L589.9 374.3L590.6 373.8L591.2 373.3L591.9 372.9L592.5 372.7L593.1 372.5L593.7 372.4L594.3 372.4L594.9 372.5" fill="none" stroke="#111" stroke-width="1.15"/>
<path d="M588.3 404.3L587.8 404.1L587.3 403.8L586.8 403.4L586.4 402.9L586.0 402.4L585.6 401.7L585.3 401.0L585.1 400.2L584.9 399.3L584.7 398.4L584.6 397.4L584.5 396.3L584.5 395.2L584.6 394.1L584.6 392.9L584.8 391.7L585.0 390.5L585.2 389.2L585.5 388.0L585.8 386.8L586.2 385.5L586.6 384.4L587.1 383.2L587.5 382.1L588.1 381.0L588.6 379.9L589.2 378.9L589.8 378.0L590.4 377.1L591.0 376.3L591.7 375.6L592.3 375.0L592.9 374.4L593.6 374.0L594.2 373.6L594.9 373.3L595.5 373.1L596.1 373.1L596.7 373.1L597.2 373.2" fill="none" stroke="#111" stroke-width="1.35"/>
<path d="M590.6 405.0L590.1 404.8L589.6 404.5L589.1 404.1L588.7 403.6L588.3 403.0L588.0 402.4L587.7 401.7L587.4 400.9L587.2 400.0L587.0 399.0L586.9 398.0L586.9 397.0L586.9 395.9L586.9 394.7L587.0 393.5L587.1 392.3L587.3 391.1L587.6 389.9L587.8 388.7L588.2 387.4L588.6 386.2L589.0 385.0L589.4 383.9L589.9 382.7L590.4 381.6L591.0 380.6L591.5 379.6L592.1 378.7L592.7 377.8L593.4 377.0L594.0 376.3L594.6 375.7L595.3 375.1L595.9 374.6L596.6 374.3L597.2 374.0L597.8 373.8L598.4 373.7L599.0 373.7L599.6 373.8" fill="none" stroke="#111" stroke-width="1.6"/>
<path d="M593.0 405.7L592.5 405.5L592.0 405.2L591.5 404.8L591.1 404.3L590.7 403.7L590.3 403.1L590.0 402.3L589.8 401.5L589.6 400.6L589.4 399.7L589.3 398.7L589.2 397.6L589.2 396.5L589.3 395.4L589.3 394.2L589.5 393.0L589.7 391.8L589.9 390.6L590.2 389.3L590.5 388.1L590.9 386.9L591.3 385.7L591.8 384.5L592.2 383.4L592.8 382.3L593.3 381.3L593.9 380.3L594.5 379.3L595.1 378.5L595.7 377.7L596.4 377.0L597.0 376.3L597.6 375.8L598.3 375.3L598.9 374.9L599.6 374.7L600.2 374.5L600.8 374.4L601.4 374.4L601.9 374.5" fill="none" stroke="#111" stroke-width="1.9"/>
<path d="M595.3 406.3L594.8 406.1L594.3 405.8L593.8 405.4L593.4 405.0L593.0 404.4L592.7 403.7L592.4 403.0L592.1 402.2L591.9 401.3L591.7 400.4L591.6 399.4L591.6 398.3L591.6 397.2L591.6 396.1L591.7 394.9L591.8 393.7L592.0 392.5L592.3 391.2L592.5 390.0L592.9 388.8L593.3 387.6L593.7 386.4L594.1 385.2L594.6 384.1L595.1 383.0L595.7 381.9L596.2 380.9L596.8 380.0L597.4 379.1L598.1 378.3L598.7 377.6L599.3 377.0L600.0 376.4L600.6 376.0L601.3 375.6L601.9 375.3L602.5 375.2L603.1 375.1L603.7 375.1L604.3 375.2" fill="none" stroke="#111" stroke-width="2.3"/>
<path d="M597.7 407.0L597.2 406.8L596.7 406.5L596.2 406.1L595.8 405.6L595.4 405.1L595.0 404.4L594.7 403.7L594.5 402.9L594.3 402.0L594.1 401.0L594.0 400.0L593.9 399.0L593.9 397.9L594.0 396.7L594.0 395.6L594.2 394.4L594.4 393.1L594.6 391.9L594.9 390.7L595.2 389.4L595.6 388.2L596.0 387.0L596.5 385.9L596.9 384.7L597.5 383.6L598.0 382.6L598.6 381.6L599.2 380.7L599.8 379.8L600.4 379.0L601.1 378.3L601.7 377.7L602.3 377.1L603.0 376.7L603.6 376.3L604.3 376.0L604.9 375.8L605.5 375.7L606.1 375.7L606.6 375.9" fill="none" stroke="#111" stroke-width="2.6"/>
<path d="M600.0 407.7L599.5 407.5L599.0 407.2L598.5 406.8L598.1 406.3L597.7 405.7L597.4 405.1L597.1 404.3L596.8 403.5L596.6 402.7L596.4 401.7L596.3 400.7L596.3 399.6L596.3 398.5L596.3 397.4L596.4 396.2L596.5 395.0L596.7 393.8L597.0 392.6L597.2 391.3L597.6 390.1L598.0 388.9L598.4 387.7L598.8 386.5L599.3 385.4L599.8 384.3L600.4 383.3L600.9 382.3L601.5 381.3L602.1 380.5L602.8 379.7L603.4 379.0L604.0 378.3L604.7 377.8L605.3 377.3L606.0 377.0L606.6 376.7L607.2 376.5L607.8 376.4L608.4 376.4L609.0 376.5" fill="none" stroke="#111" stroke-width="2.6"/>
<path class="w" d="M522.3 335.7L529 331.8L533 332.3C533.7 340 533.9 350 533.6 357.6L533 358.8L529 359.9L522.3 361Z"/>
<path class="l" d="M529 331.8V359.9M522.3 335.7L529 335.3"/>
<path class="l" d="M532.6 333C532 340 532.2 350 532.8 356.5" style="stroke-width:.45"/>
<path class="w" d="M526.8 361.5C529 359.6 536 359.4 538 361C538 362.5 537.6 363.3 537 363.8L535.3 367.8L533.5 373.4H528.5V366L527.4 364.4C526.9 363.5 526.7 362.5 526.8 361.5Z" style="stroke:none"/>
<path class="l" d="M526.8 361.5C529 359.6 536 359.4 538 361M526.8 361.5C529 363.6 536 363.4 538 361M527.4 364.4C530 366 535 365.6 537 363.8M528.5 366C530.5 367.6 533.5 367.9 535.3 367.8M528.5 366V374M535.3 367.8L533.5 373.4"/>
<path class="w" d="M522.3 377.9L524.5 376.2L529 375.6L532.4 374.5L533.5 388V392.5L529 402.6L522.3 403.8Z" style="stroke:none"/>
<path class="l" d="M522.3 377.9V403.8M524 377V403.4M529 375.6V402.6M522.3 377.9L524.5 376.2L529 375.6L532.4 374.5L533.5 388M532.4 388V393.6L534.7 392.5V388Z"/>
<path class="l" d="M522.3 403.8L529.6 402.6M533.6 332.8L549 322.6"/>
<path class="w" d="M506.4 320.3C506.7 318.0 505.8 317.8 507.3 313.4C508.8 309.0 508.1 310.2 511.0 307.1C513.9 304.0 512.2 304.0 516.0 304.0C519.8 304.0 519.4 304.4 522.3 307.1C525.2 309.8 524.0 310.4 524.8 312.1V321H522V407.5L514 409.5L506.4 408Z" style="stroke:none"/>
<path class="l" d="M506.4 320.3C506.7 318.0 505.8 317.8 507.3 313.4C508.8 309.0 508.1 310.2 511.0 307.1C513.9 304.0 512.2 304.0 516.0 304.0C519.8 304.0 519.4 304.4 522.3 307.1C525.2 309.8 524.0 310.4 524.8 312.1" />
<path class="l" d="M510.3 322.1C510.5 319.8 509.9 319.7 511.0 315.3C512.1 310.9 511.4 312.3 513.5 309.0C515.6 305.7 516.0 306.5 517.3 305.3" />
<path class="l" d="M520.7 320.9C521.2 319.0 521.1 318.2 522.3 315.3C523.5 312.4 523.7 313.2 524.4 312.1" />
<path class="l" d="M506.4 320.3C507.9 321.1 507.8 321.8 511.0 322.8C514.2 323.8 512.8 324.0 516.0 323.4C519.2 322.8 519.1 321.7 520.7 320.9" />
<path class="l" d="M506.4 320.3V408M520.4 321V407.5M521.9 321V407"/>
<path d="M510.2 331.8l-2.2 4.6h4.4z" fill="none" stroke="#111" stroke-width="1"/>
<path d="M507.8 340l2.4 -2.2l2.6 2.4l-2.4 3.2zM508.2 341.4l4 .5" fill="none" stroke="#111" stroke-width="1.1"/>
<path d="M510.2 345.5V356.5" stroke="#111" stroke-width="1.2"/>
<path d="M508.9 361.4h2.6M508.9 363.8h2.6M508.9 366.2h2.6M508.9 368.4h2.6M510.2 360.4V369" stroke="#111" stroke-width=".9"/>
<path d="M510.2 373V381" stroke="#111" stroke-width="1.2"/>
<ellipse class="t" cx="510.2" cy="384.6" rx="1.5" ry="1.8" transform="rotate(0 510.2 384.6)" style="stroke-width:1"/>
<ellipse class="t" cx="510.2" cy="388.4" rx="1.5" ry="1.8" transform="rotate(0 510.2 388.4)" style="stroke-width:1"/>
<ellipse class="t" cx="510.2" cy="395.6" rx="2" ry="3" transform="rotate(0 510.2 395.6)" style="stroke-width:1.1"/>
<path class="t" d="M510.2 323V331M510.2 358V360M510.2 399V406" style="stroke-width:.5"/>
<path class="w" d="M497.3 413.8L502 410L520 407.5L528.8 403.8L529.8 407.5L511.3 416.3L509 418.8V433.8C506 435.6 500.5 435 497.3 432Z"/>
<path class="l" d="M497.3 413.8C499 417.5 504 419.2 509 418.8M507.5 419V434.3"/>
<ellipse class="l" cx="503.8" cy="414" rx="3" ry="1.8" transform="rotate(0 503.8 414)" />
<path class="l" d="M505.6 406C509 408.6 517 408.6 521 406.4"/>
<path class="w" d="M596.3 431V340C597 334 600.5 330 605 329.8C609.5 329.8 612.3 334 612.5 340L614.4 346V434L607 436Z"/>
<path class="l" d="M599.4 346.3C599.6 338 602.5 331.5 606.3 330.6M599.4 346.3C602 349.8 608 350 610.6 347.2M598.1 347V431M610.6 347V433M612 341V433"/>
<path class="w" d="M585.6 441.3L592.5 431.3L607.5 433L606.3 437.5L600.6 442.5V457.5C597 460.6 589 460.4 585.6 457Z"/>
<path class="l" d="M585.6 441.3C588 444.5 596 445.2 600.6 442.5M599 443.2V458.4"/>
<ellipse class="l" cx="593" cy="438.5" rx="2.7" ry="1.7" transform="rotate(0 593 438.5)" />
<path class="l" d="M594.8 430C597.5 432.6 604.5 433 607.8 431.5"/>
<path class="w" d="M609.4 436V347.5C609.4 345 610.5 343.6 612 342.6L634 326.5C636 325.5 637 325.4 638.2 326V440Z" style="stroke:none"/>
<path class="l" d="M609.4 410V347.5C609.4 345 610.5 343.6 612 342.6L634 326.5C635.6 325.6 637 325.6 638 326.2"/>
<path class="l" d="M612.5 400V349.5C612.5 347.8 613 346.6 614.4 345.6L634.8 330.6" style="stroke-width:1.1"/>
<path class="t" d="M613.8 381L628.8 359.3M615.6 382L630.4 360.4" style="stroke-width:.6"/>
<path class="t" d="M615.6 369.8C616.2 367.9 615.9 367.5 617.5 364.0C619.1 360.5 618.5 362.0 620.5 359.3C622.5 356.6 621.5 357.8 623.5 356.0C625.5 354.2 624.3 354.6 626.5 354.0C628.7 353.4 627.7 353.7 630.0 354.2C632.3 354.7 632.2 355.1 633.3 355.5" />
<path class="t" d="M618.0 362.5C619.0 361.2 618.7 360.7 621.0 358.6C623.3 356.5 622.3 356.9 625.0 356.2C627.7 355.5 627.7 356.5 629.0 356.6" />
<circle cx="615.3" cy="371.6" r="1" fill="#111"/>
<path class="t" d="M631 349.5l.8 2.6M624.5 357.5l3.5 2.2M620 361l1.6 1.6"/>
<path d="M615.2 379.6l1.5 .9" stroke="#333" stroke-width=".45"/>
<path d="M617.0 377.1l1.5 .9" stroke="#333" stroke-width=".45"/>
<path d="M618.7 374.5l1.5 .9" stroke="#333" stroke-width=".45"/>
<path d="M620.5 372.0l1.5 .9" stroke="#333" stroke-width=".45"/>
<path d="M622.2 369.5l1.5 .9" stroke="#333" stroke-width=".45"/>
<path d="M624.0 367.0l1.5 .9" stroke="#333" stroke-width=".45"/>
<path d="M625.7 364.4l1.5 .9" stroke="#333" stroke-width=".45"/>
<path d="M627.5 361.9l1.5 .9" stroke="#333" stroke-width=".45"/>
<path class="l" d="M634.6 308.5C638 310.5 640.3 313 640.3 316.5V328M635.6 309.5V317.3L638.8 317.8M635.6 318.8L639.5 325.5"/>
<path class="w" d="M608.1 386V421.3C608.3 425 609.3 428.5 610.6 431.3C612 434 614 435.6 616.3 436.3L621.9 438.1L653.8 446.3L658.8 451.3C662 451.6 664 451.4 665 451.3C668 450.5 670.5 449 672.5 447.5C676 445 679 441.6 681.3 438.8C684.5 434.5 687 430.5 688.1 426.3C689 422 689 418.5 688.8 415C688.2 410 687.3 406 686.3 402.5L682.5 390L668 380L633.8 376.3L622.5 378.8L613.8 390Z" style="stroke:none"/>
<path class="l" d="M608.1 390V421.3C608.3 425 609.3 428.5 610.6 431.3C612 434 614 435.6 616.3 436.3L621.9 438.1M658.8 451.3C662 451.6 664 451.4 665 451.3C668 450.5 670.5 449 672.5 447.5C676 445 679 441.6 681.3 438.8C684.5 434.5 687 430.5 688.1 426.3C689 422 689 418.5 688.8 415C688.2 410 687.3 406 686.3 402.5L682 388"/>
<path class="l" d="M613.8 390L622.5 378.8M623.1 378.1L626.3 379.4M623.8 381.9L658.8 391.3M615 391.3L635 397.5M622.5 378.8L662 389.5"/>
<path d="M613.3 392.4L633.6 397.8L630.4 419.6L609.9 413.6Z" fill="#fff" stroke="#111" stroke-width="1.3" stroke-linejoin="round"/>
<path d="M610.1 413.2L630.4 419.2" stroke="#111" stroke-width="2"/>
<path d="M613.2 392.8L610 413.4" stroke="#111" stroke-width="1.7"/>
<path class="t" d="M615.2 395.4L631.4 399.8L628.8 416.6L612.6 412Z" style="stroke-width:.6"/>
<path class="l" d="M625.5 380L620.2 390.5" style="stroke-width:.6"/>
<path class="l" d="M655 402.5C652.8 406.5 651.3 410.5 650.6 415C650 419 649.8 423 650 427.5C650.3 432 651.2 436.5 652.5 440C653.5 442.5 654.8 444.6 656.3 446.3"/>
<path class="l" d="M662.5 392C660.5 394.5 659.6 397.5 658.8 400C657 404 655.6 408 655 412.5C654.2 417.5 653.6 422.5 653.8 427.5C654 432 655 436.5 656.3 440C657.5 443.5 659.2 446.5 661.3 448.8"/>
<path class="l" d="M620 436.9L653.8 446.3"/>
<path class="w" d="M623.8 439.4L655 447.5C657.5 448 659.5 449.5 660.3 451.3C660.6 453.5 659 455.8 655 456.3L625.6 446.3C623.5 445 622.5 443.5 622.5 442.5Z"/>
<ellipse class="l" cx="658.6" cy="451.5" rx="2.2" ry="3.6" transform="rotate(15 658.6 451.5)" style="stroke-width:1"/>
<path class="l" d="M636.3 442.7V450"/>
<ellipse class="l" cx="658.7" cy="390.3" rx="2" ry="3.2" transform="rotate(15 658.7 390.3)" style="stroke-width:1"/>
<ellipse class="l" cx="676.3" cy="410" rx="7.6" ry="12.7" transform="rotate(14 676.3 410)" />
<ellipse class="l" cx="677" cy="410.3" rx="6" ry="10" transform="rotate(14 677 410.3)" style="stroke-width:.9"/>
<ellipse class="l" cx="678.3" cy="411.2" rx="3.8" ry="7.6" transform="rotate(14 678.3 411.2)" />
<ellipse class="l" cx="679" cy="411.4" rx="2.6" ry="5.6" transform="rotate(14 679 411.4)" style="stroke-width:.5"/>
<path id="ring" d="M666.6 425C664.6 418 665.4 410 668 403.5C670.5 397.5 674.5 393.6 678.5 393.3C682.5 393.6 684.8 397 685.4 402" fill="none"/>
<text font-size="4" fill="#111" stroke="#111" stroke-width=".45" letter-spacing=".15"><textPath href="#ring">DURSTON TOOLS ENG</textPath></text>
<text transform="translate(686.3 416) rotate(103)" font-size="3.6" fill="#111" stroke="#111" stroke-width=".4">100</text>
<path d="M660.4 431.4L664.6 430.8L663.6 432.8L669 439.6L666.6 441.4L661.4 434.6L659.8 435.8Z" fill="#111" stroke="#111" stroke-width=".6"/>
<text transform="translate(670.6 439.4) rotate(-50)" font-size="5" font-style="italic" fill="#111" stroke="#111" stroke-width=".4" textLength="14" lengthAdjust="spacingAndGlyphs">Roll</text>
<ellipse class="l" cx="689" cy="426.2" rx="1.4" ry="2.4" transform="rotate(15 689 426.2)" style="stroke-width:.9"/>
<path class="w" d="M634.4 346.3L635.6 336.3C636.2 332 638 329.5 640 327.5C642 325 644 323.6 646.3 323.1L699 336.7L703 360L682.5 377.5L671.5 388L665 385L633.8 376.3Z"/>
<path class="l" d="M646.3 346.3L648.1 337.5C649 334.2 650 332.3 651.3 330.6C653 328.4 655 327 657.5 326.3"/>
<path class="l" d="M669.4 356.3L670 347.5C670.8 343.5 672 340.5 673.8 338.1C675.5 335.8 677.5 334.2 680 333.1M673.1 356.9L673.6 348.5C674.3 344.5 675.6 341.3 677.2 339C678.8 336.8 680.5 335 682.5 333.8"/>
<path class="l" d="M634.4 346.3L669.4 356.3M633.8 356.9L662.5 364.4C665.5 365.3 667 367 667 369L668 380M633.8 359.4L661.3 366.9C663.8 367.6 665 369.3 665 371.3V385"/>
<path class="l" d="M631.3 371.3L661.3 379.4M633.1 376.3L661.3 383.8"/>
<path d="M633.8 346.3V376.3" stroke="#444" stroke-width="1.3"/>
<path class="w" d="M670 356.5V378C670 382 672 385 675.5 385C679 384.6 681.5 383 682.5 379V360L673 356.9Z" style="stroke:none"/>
<path class="l" d="M670 356.5V378C670 382 672 385 675.5 385C679 384.6 681.5 383 682.5 379V369.7M673.5 365V378.5C673.8 381.5 675.5 383.8 678 384"/>
<path class="l" d="M665.5 380C665.8 382.5 666.2 384 667 385C668.3 387 669.8 388 671.5 388C674 388 676.5 387.4 678 386C680 384.6 681.3 383 682 381" />
<ellipse class="l" cx="679.3" cy="359.7" rx="2.2" ry="1.9"/>
<rect class="l" x="677.9" y="368.4" width="3.1" height="7" rx="1.55"/>
<ellipse class="w" cx="695.5" cy="353.7" rx="8.8" ry="17.7" transform="rotate(12 695.5 353.7)" />
<path class="l" d="M691.5 335.3C690.4 336.5 690.0 335.4 688.3 339.0C686.6 342.6 687.1 341.0 686.3 346.0C685.5 351.0 685.7 349.0 685.8 354.0C685.9 359.0 685.7 356.8 686.6 361.0C687.5 365.2 686.9 363.5 688.4 366.5C689.9 369.5 690.1 368.8 691.0 370.0" style="stroke-width:.6"/>
<ellipse class="w" cx="696.6" cy="354.6" rx="4.9" ry="8.8" transform="rotate(12 696.6 354.6)" style="stroke-width:1.1"/>
<path d="M693.6 347.5C691.6 351 691.4 358 693.4 362" stroke="#111" stroke-width="1.5" fill="none"/>
<ellipse class="l" cx="697.9" cy="354.9" rx="3.5" ry="7.2" transform="rotate(12 697.9 354.9)" style="stroke-width:.6"/>
<path class="l" d="M646.3 346.3C646.3 355 646 363 645.6 370C645.3 375 644.8 378 643.8 380C642.5 382.5 640.5 383.6 638.8 385C637.3 386.5 636.6 388 636.3 390C635.2 395.5 634.3 401 633.8 406.3C633 411.5 632 416.5 631.9 421.3C632 426 632.6 430 633.8 433.8C634.6 436.5 635.6 439 636.3 441.3V450"/>
<path class="w" d="M682.2 375C683.5 390 685.5 408 689.3 426.5C691.5 438 693.5 450 695 460.6C696.5 470 698 480 699 488.3L700.6 501.3L702.6 508.6L708.8 499.7L709.6 488.3C708.6 479 707.5 470 706.3 460.6C705 448 703.8 434 702.6 420C701 405 698.5 388 696 370.5L691.5 370.6L682.5 369.7Z" style="stroke:none"/>
<path class="l" d="M682.2 375C683.5 390 685.5 408 689.3 426.5C691.5 438 693.5 450 695 460.6C696.5 470 698 480 699 488.3L700.6 501.3M696 370.5C698.5 388 701 405 702.6 420C703.8 434 705 448 706.3 460.6C707.5 470 708.6 479 709.6 488.3L710.7 499.7"/>
<path class="l" d="M682.5 369.7L691.5 370.6"/>
<path class="w" d="M699.8 501.3C698 503 697 505 697 507V514.3C698.5 517 701 518.2 703.9 518.4L708.8 519.2L725.8 524L767.3 536.2C770 537.5 773.5 536.5 775 533C776.8 529 777 523 775.4 519L730 507.8L713.6 503.7L708.8 499.7L702.6 508.6L700.6 501.3Z"/>
<path class="l" d="M700.6 501.3C700 505 701 508 702.6 508.6C705.5 508.5 708.5 503.5 708.8 499.7M705.8 507.5C704.6 511 704.6 515.5 706 518.8M708.8 505C707.4 509.5 707.4 515 708.8 519.2"/>
<path class="l" d="M730 507.8C727.3 512 726 518.5 725.8 524"/>
<ellipse class="w" cx="771.4" cy="528" rx="4.2" ry="9.3" transform="rotate(14 771.4 528)" />
<path class="l" d="M769.2 519.6C766.6 523 766 531 768 536.2" style="stroke-width:.55"/>
<text transform="translate(736.2 523.2) rotate(15)" font-size="3.8" textLength="21.5" lengthAdjust="spacingAndGlyphs" fill="#111" stroke="#111" stroke-width=".35">DURSTON</text>
<path class="d" d="M111.4 370V423M185.4 370V423M90 420H207.5"/>
<path class="a" d="M111.40 420.00L95.40 422.30L95.40 417.70Z"/>
<path class="d" d="M111.40 420.00L95.40 420.00"/>
<path class="a" d="M185.40 420.00L201.40 417.70L201.40 422.30Z"/>
<path class="d" d="M185.40 420.00L201.40 420.00"/>
<text x="148.9" y="416.8" font-size="14.6" text-anchor="middle" textLength="24.4" lengthAdjust="spacingAndGlyphs">140</text>
<path class="d" d="M50.5 361.5V498M377.8 467V498M50.5 494.5H377.8"/>
<path class="a" d="M50.50 494.50L66.50 492.20L66.50 496.80Z"/>
<path class="d" d="M50.50 494.50L66.50 494.50"/>
<path class="a" d="M377.80 494.50L361.80 496.80L361.80 492.20Z"/>
<path class="d" d="M377.80 494.50L361.80 494.50"/>
<text x="214" y="491.1" font-size="14.6" text-anchor="middle" textLength="25" lengthAdjust="spacingAndGlyphs">614</text>
<path class="d" d="M292 279.6H390M371.5 455.3H377M381 455.3H390M387.5 279.6V455.3"/>
<path class="a" d="M387.50 279.60L389.80 295.60L385.20 295.60Z"/>
<path class="d" d="M387.50 279.60L387.50 295.60"/>
<path class="a" d="M387.50 455.30L385.20 439.30L389.80 439.30Z"/>
<path class="d" d="M387.50 455.30L387.50 439.30"/>
<text transform="translate(384.1 367.9) rotate(-90)" font-size="16" text-anchor="middle" textLength="24.6" lengthAdjust="spacingAndGlyphs">330</text>
<path class="d" d="M626 265.5L736.5 296.6M672.5 450L736.5 468.8M734 296.4V468"/>
<path class="a" d="M734.00 296.40L736.30 310.40L731.70 310.40Z"/>
<path class="d" d="M734.00 296.40L734.00 310.40"/>
<path class="a" d="M734.00 468.00L731.70 454.00L736.30 454.00Z"/>
<path class="d" d="M734.00 468.00L734.00 454.00"/>
<text transform="translate(730.9 382.1) rotate(-90)" font-size="16" text-anchor="middle" textLength="25.2" lengthAdjust="spacingAndGlyphs">374</text>
<path class="d" d="M477.6 361.8L422.4 410.2M419.5 409.4L495 431M477.6 361.8L556 384.5"/>
<path class="a" d="M422.40 410.20L429.86 401.26L432.23 403.97Z"/>
<path class="d" d="M422.40 410.20L431.05 402.62"/>
<path class="a" d="M477.60 361.80L470.14 370.74L467.77 368.03Z"/>
<path class="d" d="M477.60 361.80L468.95 369.38"/>
<text transform="translate(446.5 382.5) rotate(-40.8)" font-size="15" text-anchor="middle" textLength="25" lengthAdjust="spacingAndGlyphs">212</text>
<path class="d" d="M463.9 456.8L567.9 486.9M463.9 456.8L507.5 422.5M567.9 486.9L622 439"/>
<path class="a" d="M567.90 486.90L553.95 484.74L554.95 481.28Z"/>
<path class="d" d="M567.90 486.90L554.45 483.01"/>
<path class="a" d="M463.90 456.80L477.85 458.96L476.85 462.42Z"/>
<path class="d" d="M463.90 456.80L477.35 460.69"/>
<text transform="translate(516.5 467.5) rotate(15.9)" font-size="15" text-anchor="middle" textLength="25" lengthAdjust="spacingAndGlyphs">226</text>
<text x="283.4" y="555.1" font-size="14.8" textLength="247.4" lengthAdjust="spacingAndGlyphs">Lucinda Easy Roll C130 Rolling Mill</text>
<text x="371.6" y="572.3" font-size="14.8" textLength="68.2" lengthAdjust="spacingAndGlyphs">SKU: 1041</text>
<text x="342.8" y="590.4" font-size="14.8" textLength="128" lengthAdjust="spacingAndGlyphs">Dimensions is MM</text>
<circle cx="386.25" cy="620" r="5.6" fill="#8a919b"/><circle cx="386.25" cy="631.9" r="5.6" fill="#8a919b"/>
<rect x="367" y="625" width="78" height="1.8" fill="#f5a623"/>
<text x="395.7" y="622.7" font-size="7.8" textLength="42" lengthAdjust="spacingAndGlyphs" stroke="#000" stroke-width=".35">DURSTON</text>
<text x="402" y="635.1" font-size="7.8" textLength="29.4" lengthAdjust="spacingAndGlyphs" stroke="#000" stroke-width=".35">TOOLS</text>
</svg>
</body></html>
